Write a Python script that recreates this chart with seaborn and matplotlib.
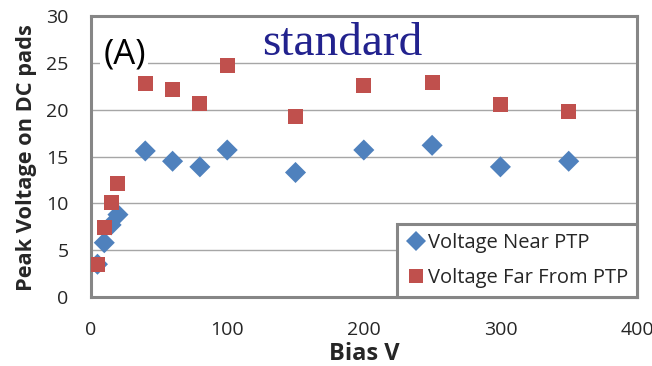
import pandas as pd
import matplotlib.pyplot as plt
import seaborn as sns

# Werte
bias_near = [5, 10, 15, 20, 40, 60, 80, 100, 150, 200, 250, 300, 350]
volt_near = [3.5, 5.8, 7.7, 8.8, 15.6, 14.5, 13.9, 15.7, 13.3, 15.7, 16.2, 13.9, 14.5]
bias_far = [5, 10, 15, 20, 40, 60, 80, 100, 150, 200, 250, 300, 350]
volt_far = [3.5, 7.4, 10.1, 12.1, 22.8, 22.2, 20.7, 24.7, 19.3, 22.6, 22.9, 20.6, 19.8]

df = pd.concat([
    pd.DataFrame({"bias": bias_near, "volt": volt_near, "serie": "Voltage Near PTP"}),
    pd.DataFrame({"bias": bias_far, "volt": volt_far, "serie": "Voltage Far From PTP"}),
])

sns.set_style("white")
plt.rcParams['font.family'] = ['Open Sans', 'DejaVu Sans']

fig = plt.figure(figsize=(6.52, 3.66), dpi=100)
ax = fig.add_axes([0.139, 0.1885, 0.838, 0.7675])

sns.scatterplot(data=df, x="bias", y="volt", hue="serie", style="serie",
                markers={"Voltage Near PTP": "D", "Voltage Far From PTP": "s"},
                palette={"Voltage Near PTP": "#4F81BD", "Voltage Far From PTP": "#C0504D"},
                s=115, linewidth=0, ax=ax, zorder=3)

ax.set_xlim(0, 400)
ax.set_ylim(0, 30)
ax.set_xticks([0, 100, 200, 300, 400])
ax.set_yticks([0, 5, 10, 15, 20, 25, 30])
ax.yaxis.grid(True, color="#A6A6A6", linewidth=1.0)
ax.set_axisbelow(True)
for sp in ax.spines.values():
    sp.set_color("#868686")
    sp.set_linewidth(2.2)
ax.tick_params(axis="x", length=5, color="#A6A6A6", width=1, labelsize=14, pad=12)
ax.tick_params(axis="y", length=0, labelsize=14, pad=16)

ax.set_xlabel("Bias V", fontsize=17, fontweight="bold")
ax.xaxis.set_label_coords(0.5, -0.224)
ax.xaxis.label.set_verticalalignment("baseline")
ax.set_ylabel("Peak Voltage on DC pads", fontsize=15.7, fontweight="bold")
ax.yaxis.set_label_coords(-0.098, 0.498)

ax.text(0.023, 0.833, "(A)", transform=ax.transAxes, fontsize=25, color="black",
        va="baseline", zorder=2,
        bbox=dict(facecolor="white", edgecolor="none", pad=2))
ax.text(0.314, 0.861, "standard", transform=ax.transAxes, fontsize=34,
        color="#22228E", family="Liberation Serif", va="baseline")

handles, labels = ax.get_legend_handles_labels()
leg = ax.legend(handles, labels, loc="lower right", bbox_to_anchor=(1.0, 0.0),
                borderaxespad=0, fontsize=14.5, frameon=True, fancybox=False,
                borderpad=0.45, handletextpad=0.15, handlelength=0.9,
                labelspacing=0.75, markerscale=0.95)
leg.get_frame().set_edgecolor("#868686")
leg.get_frame().set_linewidth(2.2)
leg.get_frame().set_alpha(1)

plt.savefig("out.png", dpi=100)
